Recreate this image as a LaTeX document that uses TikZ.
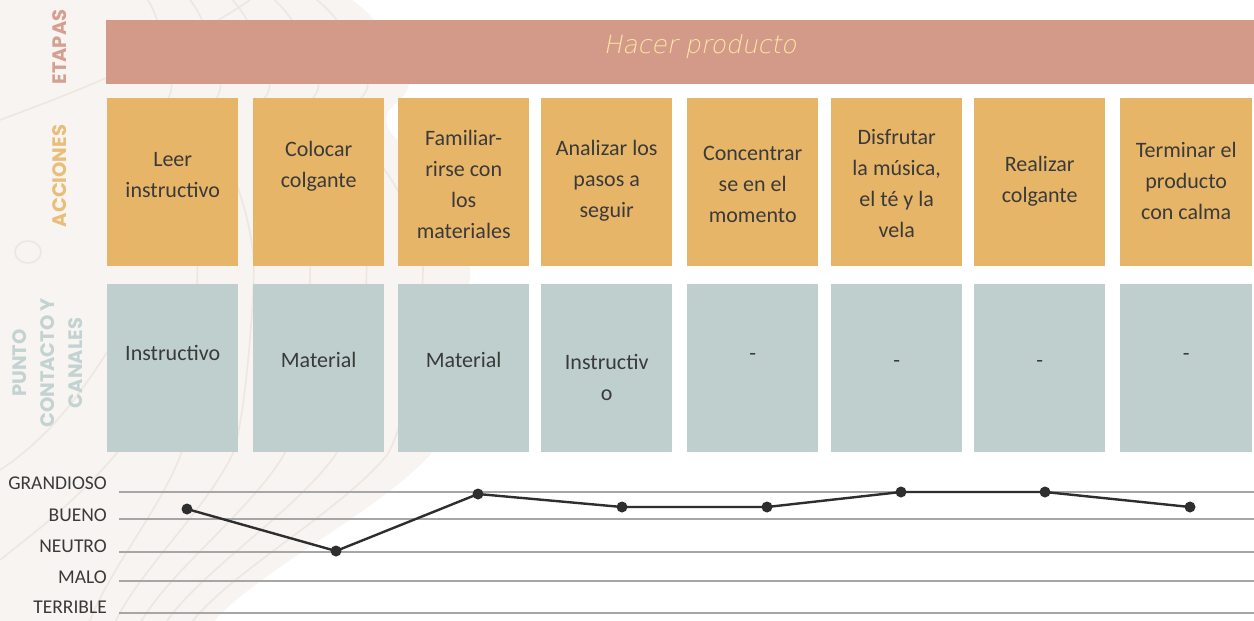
\documentclass[tikz,border=0pt]{standalone}
\usepackage{fontspec}
\setmainfont{Carlito}
\newfontfamily\sidefont{Poppins}
\newfontfamily\titlefont{DejaVu Sans ExtraLight}[FakeSlant=0.2]
\definecolor{beige}{HTML}{F8F4F1}
\definecolor{contour}{HTML}{EDE7E0}
\definecolor{etapacol}{HTML}{D39A89}
\definecolor{accioncol}{HTML}{E7B567}
\definecolor{puntocol}{HTML}{BECFCD}
\definecolor{etapalab}{HTML}{D6A091}
\definecolor{accionlab}{HTML}{E9BE78}
\definecolor{puntolab}{HTML}{C3D3D2}
\definecolor{titlecol}{HTML}{FBE6A2}
\definecolor{txt}{HTML}{3A3A3A}
\definecolor{gridcol}{HTML}{A6A6A6}
\definecolor{datacol}{HTML}{2E2E2E}
\tikzset{
  actbox/.style={fill=accioncol, minimum width=131, minimum height=168, inner sep=0, anchor=north west},
  ptbox/.style={fill=puntocol, minimum width=131, minimum height=168, inner sep=0, anchor=north west},
  boxtext/.style={text=txt, align=center, inner sep=0, font=\fontsize{22}{31}\selectfont},
  sidelab/.style={rotate=90, align=center, inner sep=0, font=\sidefont\bfseries\fontsize{19.5}{28}\selectfont},
  ratelab/.style={text=txt, anchor=east, inner sep=0, font=\fontsize{19.5}{22}\selectfont},
  gridline/.style={draw=gridcol, line width=2},
  datapt/.style={circle, fill=datacol, inner sep=0, minimum size=11},
  dataline/.style={draw=datacol, line width=2.4},
  contourline/.style={draw=contour, line width=1.6}
}
\begin{document}
\begin{tikzpicture}[x=1pt,y=-1pt]
\useasboundingbox (0,0) rectangle (1254,621);
\fill[white] (0,0) rectangle (1254,621);
% background blob
\def\blob{(0,0) -- (352,0) .. controls (370,12) and (395,40) .. (408,80) .. controls (412,95) and (395,100) .. (388,112) .. controls (382,125) and (392,138) .. (410,150) .. controls (440,180) and (470,230) .. (470,270) .. controls (470,300) and (455,420) .. (430,455) .. controls (380,510) and (260,570) .. (214,621) -- (0,621) -- cycle}
\fill[beige] \blob;
\begin{scope}
\clip \blob;
\foreach \s in {0.9,0.78,0.66,0.54,0.42}{
  \begin{scope}[xscale=\s]
    \draw[contourline] (352,0) .. controls (370,12) and (395,40) .. (408,80) .. controls (412,95) and (395,100) .. (388,112) .. controls (382,125) and (392,138) .. (410,150) .. controls (440,180) and (470,230) .. (470,270) .. controls (470,300) and (455,420) .. (430,455) .. controls (380,510) and (260,570) .. (214,621);
  \end{scope}
}
\draw[contourline] (28,252) ellipse [x radius=13, y radius=11];
\draw[contourline] (0,120) .. controls (80,90) and (160,60) .. (250,0);
\draw[contourline] (0,470) .. controls (60,430) and (90,380) .. (140,300);
\draw[contourline] (0,560) .. controls (50,520) and (120,470) .. (180,360);
\end{scope}
% side labels
\node[sidelab, text=etapalab] (letapas) at (60,47) {ETAPAS};
\node[sidelab, text=accionlab] (lacciones) at (60,176) {ACCIONES};
\node[sidelab, text=puntolab] (lpunto) at (48,363) {PUNTO\\CONTACTO Y\\CANALES};
% etapas bar
\node[fill=etapacol, minimum width=1148, minimum height=64, inner sep=0, anchor=north west] (etapas) at (106,20) {};
\node[text=titlecol, inner sep=0, font=\titlefont\fontsize{25}{30}\selectfont] (title) at (700,47) {Hacer producto};
% acciones
\node[actbox] (a1) at (107,98) {};
\node[actbox] (a2) at (253,98) {};
\node[actbox] (a3) at (398,98) {};
\node[actbox] (a4) at (541,98) {};
\node[actbox] (a5) at (687,98) {};
\node[actbox] (a6) at (831,98) {};
\node[actbox] (a7) at (974,98) {};
\node[actbox, minimum width=132] (a8) at (1120,98) {};
\node[boxtext] (ta1) at (a1.center |- 0,175) {Leer\\instructivo};
\node[boxtext] (ta2) at (a2.center |- 0,166) {Colocar\\colgante};
\node[boxtext] (ta3) at (a3.center |- 0,184) {Familiar-\\rirse con\\los\\materiales};
\node[boxtext] (ta4) at (a4.center |- 0,181) {Analizar los\\pasos a\\seguir};
\node[boxtext] (ta5) at (a5.center |- 0,184) {Concentrar\\se en el\\momento};
\node[boxtext] (ta6) at (a6.center |- 0,184) {Disfrutar\\la música,\\el té y la\\vela};
\node[boxtext] (ta7) at (a7.center |- 0,181) {Realizar\\colgante};
\node[boxtext] (ta8) at (a8.center |- 0,181) {Terminar el\\producto\\con calma};
% punto de contacto
\node[ptbox] (p1) at (107,284) {};
\node[ptbox] (p2) at (253,284) {};
\node[ptbox] (p3) at (398,284) {};
\node[ptbox] (p4) at (541,284) {};
\node[ptbox] (p5) at (687,284) {};
\node[ptbox] (p6) at (831,284) {};
\node[ptbox] (p7) at (974,284) {};
\node[ptbox, minimum width=132] (p8) at (1120,284) {};
\node[boxtext] (tp1) at (p1.center |- 0,353) {Instructivo};
\node[boxtext] (tp2) at (p2.center |- 0,360) {Material};
\node[boxtext] (tp3) at (p3.center |- 0,360) {Material};
\node[boxtext] (tp4) at (p4.center |- 0,377) {Instructiv\\o};
\node[boxtext] (tp5) at (p5.center |- 0,357) {-};
\node[boxtext] (tp6) at (p6.center |- 0,364) {-};
\node[boxtext] (tp7) at (p7.center |- 0,364) {-};
\node[boxtext] (tp8) at (p8.center |- 0,357) {-};
% rating grid
\foreach \n/\y in {g/492,b/519,n/552,m/581,t/613}{
  \coordinate (\n L) at (119,\y);
  \coordinate (\n R) at (1254,\y);
  \draw[gridline] (\n L) -- (\n R);
}
\node[ratelab] (lg) at (107,483) {GRANDIOSO};
\node[ratelab] (lb) at (107,515) {BUENO};
\node[ratelab] (ln) at (107,546) {NEUTRO};
\node[ratelab] (lm) at (107,577) {MALO};
\node[ratelab] (lt) at (107,607) {TERRIBLE};
% data
\node[datapt] (d1) at (187,509) {};
\node[datapt] (d2) at (336,551) {};
\node[datapt] (d3) at (478,494) {};
\node[datapt] (d4) at (622,507) {};
\node[datapt] (d5) at (767,507) {};
\node[datapt] (d6) at (901,492) {};
\node[datapt] (d7) at (1045,492) {};
\node[datapt] (d8) at (1190,507) {};
\draw[dataline] (d1.center) -- (d2.center) -- (d3.center) -- (d4.center) -- (d5.center) -- (d6.center) -- (d7.center) -- (d8.center);
\end{tikzpicture}
\end{document}
